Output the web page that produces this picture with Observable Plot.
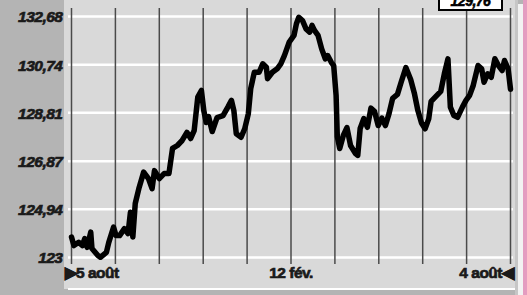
<!DOCTYPE html>
<html>
<head>
<meta charset="utf-8">
<script src="https://cdn.jsdelivr.net/npm/d3@7"></script>
<script src="https://cdn.jsdelivr.net/npm/@observablehq/plot@0.6"></script>
<style>
  html, body { margin: 0; padding: 0; }
  body { width: 527px; height: 295px; overflow: hidden; background: #b4b4b4; position: relative; font-family: "Liberation Sans", sans-serif; }
  .bg { position: absolute; }
  #chart { position: absolute; left: 0; top: 0; }
  #chart svg text { font-family: "Liberation Sans", Arial, sans-serif !important; font-weight: 700 !important; font-size: 15.5px !important; letter-spacing: -0.5px; stroke: #1a1a1a; stroke-width: 0.7px; paint-order: normal; }
  #chart svg .yax text { font-style: italic !important; }
  #last { position: absolute; left: 438px; top: -9px; width: 61px; height: 16px; border: 2px solid #000; background: #fff;
          font: italic bold 14px "Liberation Sans", sans-serif; letter-spacing: -0.5px; line-height: 16px; text-align: center; color: #000; -webkit-text-stroke: 0.6px #000; }
</style>
</head>
<body>
<div class="bg" style="left:64px;top:0;width:451px;height:289px;background:#d9d9d9"></div>
<div class="bg" style="left:68px;top:288px;width:447px;height:2px;background:#fff"></div>
<div class="bg" style="left:515px;top:0;width:3px;height:295px;background:#c6c6c6"></div>
<div class="bg" style="left:518px;top:4px;width:5px;height:291px;background:#f2f2f2"></div>
<div class="bg" style="left:523px;top:0;width:4px;height:295px;background:#e49cc0"></div>
<div id="chart"></div>
<div id="last"></div>
<script>
// Day offsets from 5 août (0) to 4 août (365)
const days = [0,2,6,9,11,13,16,17,22,24,29,31,35,37,40,44,47,49,51,53,56,60,64,67,69,73,77,81,84,88,92,96,99,102,105,108,110,112,114,117,121,126,130,133,135,137,141,144,147,149,152,156,159,162,163,167,171,174,177,181,185,187,189,192,195,198,200,202,205,208,211,213,216,218,220,221,223,226,229,232,236,238,240,243,246,249,252,255,258,261,264,267,271,274,278,282,285,288,291,294,297,299,303,307,310,313,315,318,321,325,328,331,334,338,341,343,346,349,352,355,358,360,363,365];
const values = [123.82,123.48,123.61,123.48,123.76,123.41,124.02,123.36,123.08,123.01,123.21,123.61,124.22,123.88,123.88,124.16,123.96,124.82,123.82,125.17,125.77,126.43,126.17,125.77,126.49,126.17,126.37,126.37,127.38,127.50,127.70,128.03,127.78,128.10,129.44,129.71,128.90,128.42,128.66,128.06,128.62,128.70,129.04,129.31,128.90,127.97,127.83,128.17,128.77,129.78,130.44,130.44,130.78,130.64,130.18,130.44,130.58,130.78,131.11,131.65,131.92,132.39,132.65,132.52,132.18,132.05,132.32,132.12,131.92,131.38,130.98,131.11,130.84,130.71,129.51,127.86,127.38,127.90,128.22,127.50,127.18,127.10,128.18,128.58,128.23,129.00,128.86,128.30,128.60,128.30,128.78,129.39,129.55,130.03,130.63,130.15,129.61,128.90,128.40,128.17,128.57,129.27,129.47,129.67,130.38,130.98,129.04,128.70,128.63,129.04,129.31,129.51,129.91,130.71,130.58,130.04,130.38,130.24,130.98,130.71,130.51,130.91,130.58,129.76];

const yTicks = [123, 124.94, 126.87, 128.81, 130.74, 132.68];
const yTickLabels = ["123", "124,94", "126,87", "128,81", "130,74", "132,68"];
const xGrid = [0, 36.5, 73, 109.5, 146, 182.5, 219, 255.5, 292, 328.5, 365];
const xLabels = ["\u25B65 août", "12 fév.", "4 août\u25C0"];
const xLabelPos = [0, 182.5, 365];
const lastLabel = "129,76";

const data = days.map((d, i) => ({day: d, value: values[i]}));

const plot = Plot.plot({
  width: 527,
  height: 295,
  marginLeft: 71,
  marginRight: 17,
  marginTop: 8,
  marginBottom: 31,
  style: {background: "transparent", fontFamily: '"Liberation Sans", sans-serif', fontSize: "15px", color: "#1a1a1a"},
  x: {type: "linear", domain: [0, 365], axis: null},
  y: {domain: [122.72, 133.0], axis: null},
  marks: [
    Plot.ruleY(yTicks, {stroke: "#ffffff", strokeWidth: 2.5, insetLeft: -3, insetRight: -3}),
    Plot.ruleX(xGrid, {stroke: "#4a4a4a", strokeWidth: 1.5}),
    Plot.line(data, {x: "day", y: "value", stroke: "#000", strokeWidth: 5.5, strokeLinejoin: "round", strokeLinecap: "round"}),
    Plot.axisY(yTicks, {anchor: "left", label: null, tickSize: 0, tickPadding: 9, className: "yax",
      tickFormat: d => yTickLabels[yTicks.indexOf(d)], dy: 1, fill: "#1a1a1a"}),
    Plot.text([0], {x: i => xLabelPos[i], text: i => xLabels[i], frameAnchor: "bottom", dy: 13, dx: -7, textAnchor: "start", fill: "#1a1a1a"}),
    Plot.text([1], {x: i => xLabelPos[i], text: i => xLabels[i], frameAnchor: "bottom", dy: 13, textAnchor: "middle", fill: "#1a1a1a"}),
    Plot.text([2], {x: i => xLabelPos[i], text: i => xLabels[i], frameAnchor: "bottom", dy: 13, dx: 3, textAnchor: "end", fill: "#1a1a1a"})
  ]
});
document.getElementById("chart").appendChild(plot);
document.getElementById("last").textContent = lastLabel;
</script>
</body>
</html>
